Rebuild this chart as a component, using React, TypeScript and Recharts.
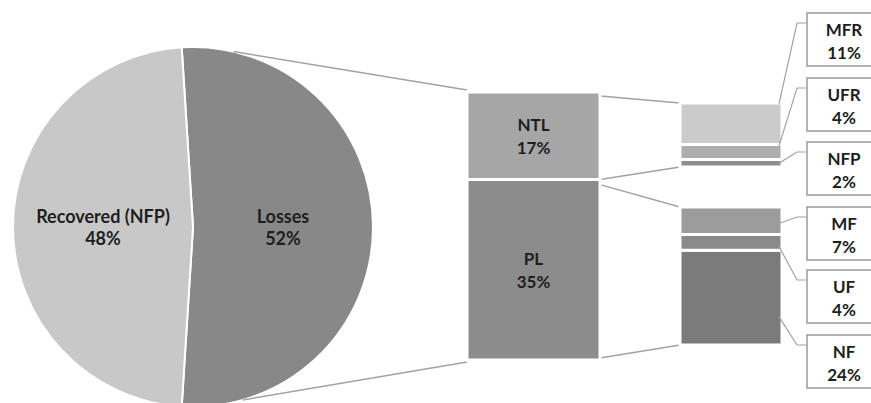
import React from 'react'
import { PieChart, Pie, Cell, BarChart, Bar, XAxis, YAxis, LabelList } from 'recharts'

const W = 871
const H = 403

// first level: recovered vs losses
const pieNames = ['Losses', 'Recovered (NFP)']
const pieValues = [52, 48]
const pieColors = ['#888888', '#c8c8c8']

// losses split, bottom to top
const lossNames = ['PL', 'NTL']
const lossValues = [35, 17]
const lossColors = ['#8c8c8c', '#a6a6a6']

// NTL breakdown, bottom to top
const ntlNames = ['NFP', 'UFR', 'MFR']
const ntlValues = [2, 4, 11]
const ntlColors = ['#8e8e8e', '#adadad', '#cbcbcb']

// PL breakdown, bottom to top
const plNames = ['NF', 'UF', 'MF']
const plValues = [24, 4, 7]
const plColors = ['#7b7b7b', '#8a8a8a', '#9c9c9c']

// layout
const pie = { cx: 193, cy: 227, r: 180 }
const mid = { left: 467, right: 600, top: 92, bottom: 360 }
const side = { left: 680, right: 782 }
const ntlFrame = { top: 103, bottom: 167 }
const plFrame = { top: 207, bottom: 345 }
const box = { x: 807, w: 74, h: 53 }
const ntlBoxTops = [142, 78, 13]
const plBoxTops = [335, 270, 207]
const ntlAnchor = [0.5, 0.1, 0.02]
const plAnchor = [0.7, 0.75, 0.6]

const font = { fontFamily: 'Lato, "Open Sans", sans-serif', fontWeight: 700, fontSize: 17 }
const ink = '#1e1e1e'
const lineGray = '#a2a2a2'
const RAD = Math.PI / 180

const abs: React.CSSProperties = { position: 'absolute', left: 0, top: 0 }
const noMargin = { top: 0, right: 0, bottom: 0, left: 0 }

const pieTotal = pieValues.reduce((a, b) => a + b, 0)
const lossSweep = (pieValues[0] / pieTotal) * 360
const pieData = pieNames.map((name, i) => ({ name, value: pieValues[i] }))

const lossTotal = lossValues.reduce((a, b) => a + b, 0)
const ntlTotal = ntlValues.reduce((a, b) => a + b, 0)
const plTotal = plValues.reduce((a, b) => a + b, 0)

const toRow = (names: string[], values: number[]) => {
  const row: any = { name: 'x' }
  names.forEach((n, i) => (row[n] = values[i]))
  return [row]
}

const rectOf = (props: any) => {
  const v = props.viewBox || props
  return { x: v.x, y: v.y, width: v.width, height: v.height }
}

const renderPieLabel = (props: any) => {
  const { cx, cy, midAngle, outerRadius, name, value } = props
  const x = cx + outerRadius * 0.5 * Math.cos(-midAngle * RAD)
  const y = cy + outerRadius * 0.5 * Math.sin(-midAngle * RAD)
  return (
    <text x={x} y={y} textAnchor="middle" fill={ink} style={{ ...font, fontSize: 18 }}>
      <tspan x={x} y={y - 11} dominantBaseline="central">{name}</tspan>
      <tspan x={x} y={y + 11} dominantBaseline="central">{value}%</tspan>
    </text>
  )
}

const centerLabel = (name: string) => (props: any) => {
  const { x, y, width, height } = rectOf(props)
  const cx = x + width / 2
  const cy = y + height / 2
  return (
    <text x={cx} y={cy} textAnchor="middle" fill={ink} style={font}>
      <tspan x={cx} y={cy - 11} dominantBaseline="central">{name}</tspan>
      <tspan x={cx} y={cy + 12} dominantBaseline="central">{props.value}%</tspan>
    </text>
  )
}

const callout = (name: string, boxTop: number, anchor: number) => (props: any) => {
  const { x, y, width, height } = rectOf(props)
  const ax = x + width - 3
  const ay = y + height * anchor
  const ly = boxTop + 10
  const tx = box.x + box.w / 2
  return (
    <g>
      <path d={`M${box.x},${ly} H${box.x - 10} L${ax},${ay}`} fill="none" stroke={lineGray} strokeWidth={1.2} />
      <rect x={box.x} y={boxTop} width={box.w} height={box.h} fill="#fff" stroke="#9a9a9a" strokeWidth={1.5} />
      <text x={tx} y={boxTop} textAnchor="middle" fill={ink} style={font}>
        <tspan x={tx} y={boxTop + 16} dominantBaseline="central">{name}</tspan>
        <tspan x={tx} y={boxTop + 39} dominantBaseline="central">{props.value}%</tspan>
      </text>
    </g>
  )
}

const StackColumn = ({
  names,
  values,
  colors,
  total,
  frame,
  left,
  right,
  label,
}: {
  names: string[]
  values: number[]
  colors: string[]
  total: number
  frame: { top: number; bottom: number }
  left: number
  right: number
  label: (i: number) => any
}) => (
  <div style={abs}>
    <BarChart
      width={W}
      height={H}
      data={toRow(names, values)}
      margin={{ top: frame.top, bottom: H - frame.bottom, left, right: W - right }}
      barCategoryGap={0}
    >
      <XAxis dataKey="name" hide />
      <YAxis hide domain={[0, total]} />
      {names.map((n, i) => (
        <Bar
          key={n}
          dataKey={n}
          stackId="s"
          fill={colors[i]}
          stroke="#ffffff"
          strokeWidth={3}
          isAnimationActive={false}
        >
          <LabelList dataKey={n} content={label(i)} />
        </Bar>
      ))}
    </BarChart>
  </div>
)

const Connectors = () => {
  const topA = 77 * RAD
  const botA = -74 * RAD
  const p1 = [pie.cx + pie.r * Math.cos(topA), pie.cy - pie.r * Math.sin(topA)]
  const p2 = [pie.cx + pie.r * Math.cos(botA), pie.cy - pie.r * Math.sin(botA)]
  const ntlBottom = mid.top + ((mid.bottom - mid.top) * lossValues[1]) / lossTotal
  const segs = [
    [p1[0], p1[1], mid.left, mid.top - 2],
    [p2[0], p2[1], mid.left, mid.bottom + 2],
    [mid.right, mid.top + 4, side.left, ntlFrame.top],
    [mid.right, ntlBottom, side.left, ntlFrame.bottom],
    [mid.right, ntlBottom + 5, side.left, plFrame.top],
    [mid.right, mid.bottom - 2, side.left, plFrame.bottom],
  ]
  return (
    <svg width={W} height={H} style={abs}>
      {segs.map((s, i) => (
        <line key={i} x1={s[0]} y1={s[1]} x2={s[2]} y2={s[3]} stroke={lineGray} strokeWidth={1.5} />
      ))}
    </svg>
  )
}

export default function App() {
  return (
    <div style={{ ...abs, width: W, height: H, overflow: 'hidden', background: '#fff' }}>
      <div style={abs}>
        <PieChart width={W} height={H} margin={noMargin}>
          <Pie
            data={pieData}
            dataKey="value"
            nameKey="name"
            cx={pie.cx}
            cy={pie.cy}
            outerRadius={pie.r}
            startAngle={-lossSweep / 2}
            endAngle={360 - lossSweep / 2}
            stroke="#ffffff"
            strokeWidth={2}
            label={renderPieLabel}
            labelLine={false}
            isAnimationActive={false}
          >
            {pieData.map((d, i) => (
              <Cell key={d.name} fill={pieColors[i]} />
            ))}
          </Pie>
        </PieChart>
      </div>
      <Connectors />
      <StackColumn
        names={lossNames}
        values={lossValues}
        colors={lossColors}
        total={lossTotal}
        frame={mid}
        left={mid.left}
        right={mid.right}
        label={(i) => centerLabel(lossNames[i])}
      />
      <StackColumn
        names={ntlNames}
        values={ntlValues}
        colors={ntlColors}
        total={ntlTotal}
        frame={ntlFrame}
        left={side.left}
        right={side.right}
        label={(i) => callout(ntlNames[i], ntlBoxTops[i], ntlAnchor[i])}
      />
      <StackColumn
        names={plNames}
        values={plValues}
        colors={plColors}
        total={plTotal}
        frame={plFrame}
        left={side.left}
        right={side.right}
        label={(i) => callout(plNames[i], plBoxTops[i], plAnchor[i])}
      />
    </div>
  )
}
